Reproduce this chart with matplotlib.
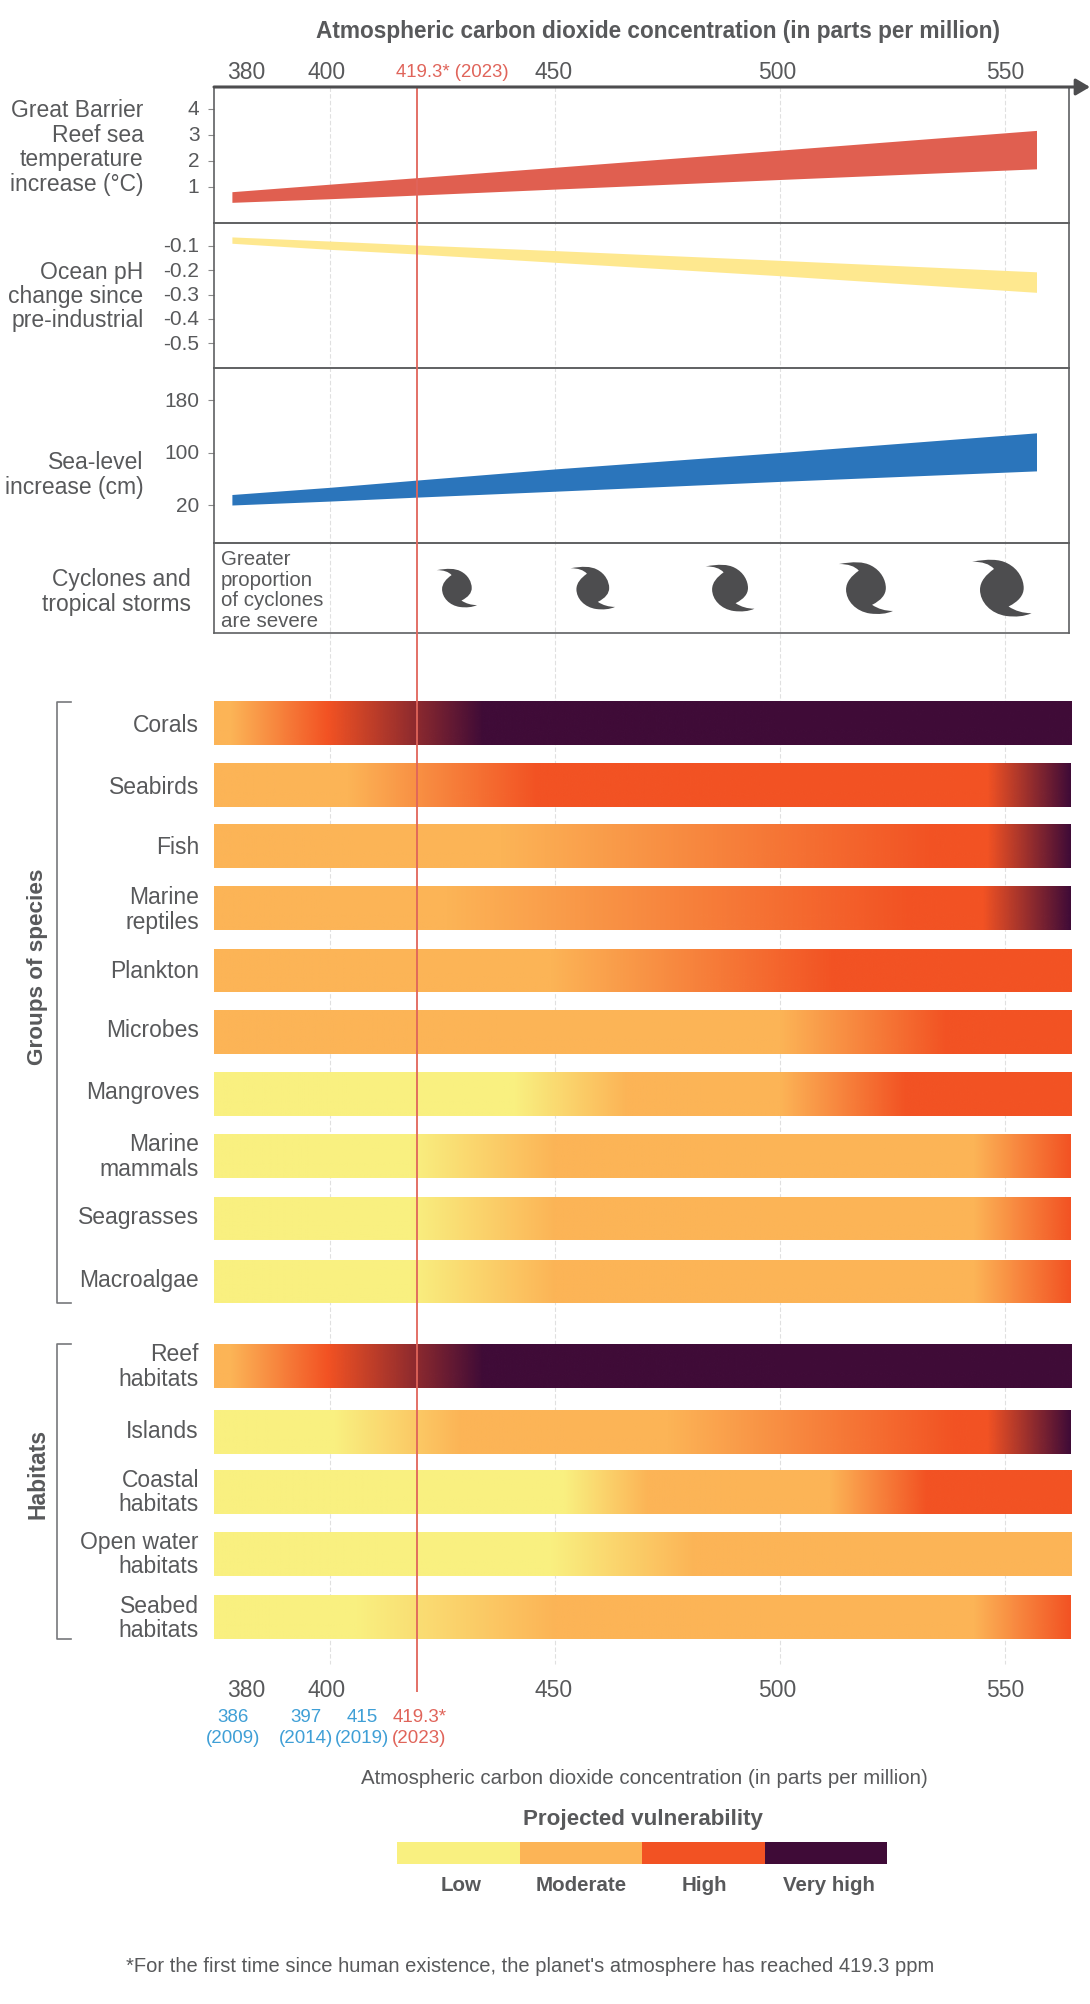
import matplotlib
matplotlib.use('Agg')
import matplotlib.pyplot as plt
from matplotlib.colors import LinearSegmentedColormap, Normalize
from matplotlib.image import NonUniformImage
from matplotlib.patches import Rectangle
from matplotlib.path import Path
from matplotlib.transforms import ScaledTranslation

plt.rcParams['font.family'] = ['Liberation Sans', 'DejaVu Sans']

# top panels: ppm positions and band edges
band_ppm = [378.2, 400, 419.3, 450, 500, 557]
temp_upper = [0.82, 1.11, 1.36, 1.76, 2.42, 3.18]
temp_lower = [0.41, 0.55, 0.69, 0.92, 1.29, 1.70]
ph_upper = [-0.064, -0.081, -0.097, -0.120, -0.160, -0.207]
ph_lower = [-0.090, -0.115, -0.134, -0.168, -0.223, -0.291]
sea_upper = [36, 47, 58, 75, 100, 130]
sea_lower = [20, 26, 32, 41, 56, 72]

temp_ticks = [1, 2, 3, 4]
ph_ticks = [-0.1, -0.2, -0.3, -0.4, -0.5]
sea_ticks = [20, 100, 180]

cyclone_ppm = [428.2, 458.4, 488.9, 519.1, 549.3]
cyclone_height_px = [38, 42, 46, 51, 56]

current_ppm = 419.3
grid_ppm = [400, 450, 500, 550]

# vulnerability levels: 0 low, 1 moderate, 2 high, 3 very high
level_colors = ['#f9f080', '#fcb456', '#f25223', '#3f0b37']
level_names = ['Low', 'Moderate', 'High', 'Very high']

species = ['Corals', 'Seabirds', 'Fish', 'Marine\nreptiles', 'Plankton', 'Microbes',
           'Mangroves', 'Marine\nmammals', 'Seagrasses', 'Macroalgae']
species_ppm = [
    [374.3, 378, 399.5, 434, 564.7],
    [374.3, 404, 446, 546, 564.4],
    [374.3, 438, 534, 546, 564.4],
    [374.3, 426, 529, 545, 564.4],
    [374.3, 449, 512, 564.7],
    [374.3, 500, 537, 564.7],
    [374.3, 441, 466, 500, 528, 564.7],
    [374.3, 418, 450, 543, 564.4],
    [374.3, 418, 450, 543, 564.4],
    [374.3, 418, 450, 543, 564.4],
]
species_levels = [
    [1, 1, 2, 3, 3],
    [1, 1, 2, 2, 3],
    [1, 1, 2, 2, 3],
    [1, 1, 2, 2, 3],
    [1, 1, 2, 2],
    [1, 1, 2, 2],
    [0, 0, 1, 1, 2, 2],
    [0, 0, 1, 1, 2],
    [0, 0, 1, 1, 2],
    [0, 0, 1, 1, 2],
]

habitats = ['Reef\nhabitats', 'Islands', 'Coastal\nhabitats', 'Open water\nhabitats', 'Seabed\nhabitats']
habitat_ppm = [
    [374.3, 378, 399.5, 434, 564.7],
    [374.3, 401, 429, 475, 539, 546, 564.4],
    [374.3, 452, 470.6, 511, 532.5, 564.7],
    [374.3, 449, 481, 564.7],
    [374.3, 406, 450, 543, 564.4],
]
habitat_levels = [
    [1, 1, 2, 3, 3],
    [0, 0, 1, 1, 2, 2, 3],
    [0, 0, 1, 1, 2, 2],
    [0, 0, 1, 1],
    [0, 0, 1, 1, 2],
]

TEXT = '#58595b'
DARK = '#4d4d4f'
RED = '#e0645a'
BLUE = '#3f9fd6'

W, H = 1090, 2004
fig = plt.figure(figsize=(W / 100, H / 100), dpi=100)


def px_ppm(px):
    return 400 + (px - 330) / 4.5


def ppm_px(ppm):
    return 330 + (ppm - 400) * 4.5


def box(x0, y0, x1, y1):
    return [x0 / W, 1 - y1 / H, (x1 - x0) / W, (y1 - y0) / H]


# full page layers
ax_grid = fig.add_axes([0, 0, 1, 1], zorder=0)
ax_top = fig.add_axes([0, 0, 1, 1], zorder=5)
ax_page = fig.add_axes([0, 0, 1, 1], zorder=6)
for a in (ax_grid, ax_top):
    a.set_xlim(px_ppm(0), px_ppm(W))
    a.set_ylim(H, 0)
    a.axis('off')
ax_page.set_xlim(0, W)
ax_page.set_ylim(H, 0)
ax_page.axis('off')

ax_grid.vlines(grid_ppm, 87, 1664, color='#e0e0e0', lw=0.8, ls=(0, (4, 2)))
ax_top.vlines(current_ppm, 87, 1692, color=RED, lw=1.3)

# the four framed panels
panel_y = [(87, 223), (223, 368), (368, 543), (543, 633)]
panel_lim = [(-0.385, 4.85), (-0.601, -0.007), (-37.9, 228.8), (0, 1)]
panels = []
for (y0, y1), lim in zip(panel_y, panel_lim):
    a = fig.add_axes(box(214, y0, 1069, y1), zorder=2)
    a.patch.set_alpha(0)
    a.set_xlim(px_ppm(214), px_ppm(1069))
    a.set_ylim(lim)
    a.set_xticks([])
    for s in a.spines.values():
        s.set_color('#5f6062')
        s.set_linewidth(1.2)
    a.tick_params(axis='y', length=4.5, width=0.8, color='#8a8a8a', labelsize=15, labelcolor=TEXT, pad=6)
    panels.append(a)

panels[0].fill_between(band_ppm, temp_lower, temp_upper, color='#e05f50', lw=0)
panels[0].set_yticks(temp_ticks)
panels[1].fill_between(band_ppm, ph_lower, ph_upper, color='#fee88f', lw=0)
panels[1].set_yticks(ph_ticks)
panels[1].set_yticklabels([f'-{abs(v):.1f}' for v in ph_ticks])
panels[2].fill_between(band_ppm, sea_lower, sea_upper, color='#2b75bb', lw=0)
panels[2].set_yticks(sea_ticks)
panels[3].set_yticks([])

# tick labels sit a little above their ticks in the original
for a, dy in zip(panels[:3], [2, 1, 1]):
    for lab in a.get_yticklabels():
        lab.set_transform(lab.get_transform() + ScaledTranslation(0, dy / 100, fig.dpi_scale_trans))

# cyclone glyph, unit height
cyclone = Path(
    [(-0.53, 0.47), (-0.25, 0.52), (-0.05, 0.52), (0.10, 0.44),
     (0.30, 0.34), (0.39, 0.15), (0.39, 0.0),
     (0.39, -0.13), (0.30, -0.24), (0.12, -0.33),
     (0.24, -0.41), (0.38, -0.45), (0.53, -0.45),
     (0.40, -0.51), (0.25, -0.52), (0.08, -0.50),
     (-0.20, -0.46), (-0.39, -0.25), (-0.39, -0.03),
     (-0.39, 0.12), (-0.28, 0.24), (-0.14, 0.34),
     (-0.22, 0.43), (-0.35, 0.47), (-0.53, 0.47)],
    [Path.MOVETO] + [Path.CURVE4] * 24,
)
panels[3].scatter(cyclone_ppm, [0.5] * 5, marker=cyclone, color=DARK, lw=0,
                  s=[(1.06 * h * 0.72) ** 2 for h in cyclone_height_px])

# heat strips
cmap = LinearSegmentedColormap.from_list('vuln', level_colors, N=256)
species_y = [(702.5, 745.5), (764, 807), (825, 868), (887, 930), (949.5, 992),
             (1011, 1054), (1073, 1116), (1135, 1178), (1198, 1240.5), (1260.5, 1303)]
species_label_y = [725.5, 787, 847.5, 910, 971, 1030.7, 1093, 1157, 1217.7, 1280]
habitat_y = [(1345, 1388), (1411, 1454), (1470.5, 1513.5), (1533, 1576), (1596, 1639)]
habitat_label_y = [1367, 1431, 1492.5, 1554.5, 1618.7]


def strips(names, ppm, levels, ys, label_ys):
    for name, xs, lv, (y0, y1), ly in zip(names, ppm, levels, ys, label_ys):
        a = fig.add_axes(box(ppm_px(xs[0]), y0, ppm_px(xs[-1]), y1), zorder=1)
        a.axis('off')
        im = NonUniformImage(a, interpolation='bilinear', cmap=cmap, norm=Normalize(0, 3))
        im.set_data(xs, [0, 1], [lv, lv])
        a.add_image(im)
        a.set_xlim(xs[0], xs[-1])
        a.set_ylim(0, 1)
        ax_page.text(199, ly, name, ha='right', va='center', fontsize=16.5, color=TEXT, linespacing=1.08)


strips(species, species_ppm, species_levels, species_y, species_label_y)
strips(habitats, habitat_ppm, habitat_levels, habitat_y, habitat_label_y)

# brackets
for y0, y1, label, ly, fs in [(702, 1303, 'Groups of species', 967, 16.2), (1344, 1639, 'Habitats', 1474, 16.5)]:
    ax_page.plot([71, 57, 57, 71], [y0, y0, y1, y1], color='#77787b', lw=1.2)
    ax_page.text(38, ly, label, rotation=90, ha='center', va='center', fontsize=fs,
                 fontweight='bold', color=TEXT)

# panel labels
for label, x, y in [('Great Barrier\nReef sea\ntemperature\nincrease (°C)', 143.5, 147.5),
                    ('Ocean pH\nchange since\npre-industrial', 143.5, 296.5),
                    ('Sea-level\nincrease (cm)', 143.5, 475),
                    ('Cyclones and\ntropical storms', 191, 592)]:
    ax_page.text(x, y, label, ha='right', va='center', fontsize=16.5, color=TEXT, linespacing=1.08)
ax_page.text(221, 590.5, 'Greater\nproportion\nof cyclones\nare severe', ha='left', va='center',
             fontsize=14.8, color=TEXT, linespacing=1.09)

# top axis
ax_page.annotate('', xy=(1090, 87), xytext=(214, 87),
                 arrowprops=dict(arrowstyle='-|>,head_length=0.85,head_width=0.5', lw=2.2, color=DARK,
                                 shrinkA=0, shrinkB=0, mutation_scale=10))
ax_page.text(657.6, 31, 'Atmospheric carbon dioxide concentration (in parts per million)',
             ha='center', va='center', fontsize=16.3, fontweight='bold', color=TEXT)
axis_labels = ['380', '400', '450', '500', '550']
axis_label_x = [246.5, 327, 554, 777, 1005]
for t, x in zip(axis_labels, axis_label_x):
    ax_page.text(x, 72, t, ha='center', va='center', fontsize=16.5, color=TEXT)
    ax_page.text(x, 1690.5, t, ha='center', va='center', fontsize=16.5, color=TEXT)
ax_page.text(452, 72, '419.3* (2023)', ha='center', va='center', fontsize=13.4, color=RED)

# bottom annotations
year_labels = ['386\n(2009)', '397\n(2014)', '415\n(2019)', '419.3*\n(2023)']
year_x = [232.6, 306, 362, 419.4]
year_colors = [BLUE, BLUE, BLUE, RED]
for t, x, c in zip(year_labels, year_x, year_colors):
    ax_page.text(x, 1728, t, ha='center', va='center', fontsize=13.5, color=c, linespacing=1.35)
ax_page.text(644, 1778.5, 'Atmospheric carbon dioxide concentration (in parts per million)',
             ha='center', va='center', fontsize=14.8, color=TEXT)

# legend
ax_page.text(643, 1820, 'Projected vulnerability', ha='center', va='center', fontsize=16.1,
             fontweight='bold', color=TEXT)
legend_x = [397, 519.5, 642, 764.5]
legend_label_x = [460.7, 581.6, 704.6, 828.6]
for c, x, name, lx in zip(level_colors, legend_x, level_names, legend_label_x):
    ax_page.add_patch(Rectangle((x, 1842), 122.5, 21.7, color=c, lw=0))
    ax_page.text(lx, 1885.5, name, ha='center', va='center', fontsize=14.8, fontweight='bold', color=TEXT)

ax_page.text(530, 1967, "*For the first time since human existence, the planet's atmosphere has reached 419.3 ppm",
             ha='center', va='center', fontsize=14.46, color=TEXT)

fig.savefig('out.png', dpi=100)
